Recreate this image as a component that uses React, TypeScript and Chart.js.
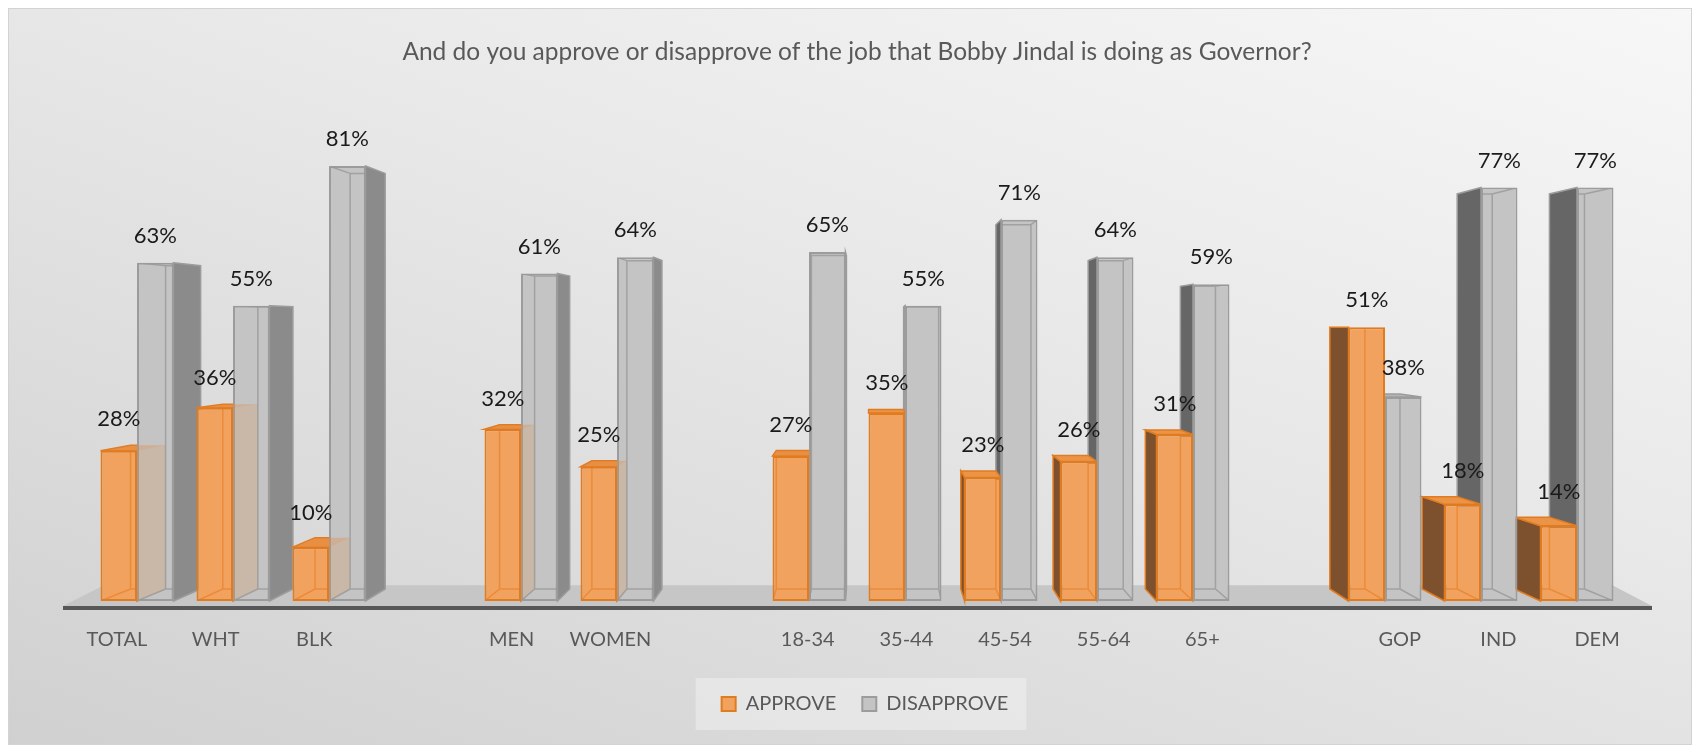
import React, { useEffect, useRef } from "react";
import { Chart, registerables } from "chart.js";

Chart.register(...registerables);

const TITLE = "And do you approve or disapprove of the job that Bobby Jindal is doing as Governor?";
const CATEGORIES = ["TOTAL", "WHT", "BLK", "", "MEN", "WOMEN", "", "18-34", "35-44", "45-54", "55-64", "65+", "", "GOP", "IND", "DEM"];
const APPROVE = [28, 36, 10, null, 32, 25, null, 27, 35, 23, 26, 31, null, 51, 18, 14];
const DISAPPROVE = [63, 55, 81, null, 61, 64, null, 65, 55, 71, 64, 59, null, 38, 77, 77];
const SERIES_NAMES = ["APPROVE", "DISAPPROVE"];

const FONT = "Lato, 'Open Sans', sans-serif";
const KX = 0.039;
const KY = 0.0446;
const VPX_F = 0.5085;
const VPY_F = 0.502;
const LEGEND_SHIFT = 8;

const STYLES = [
  { front: "#f0a25e", border: "#e07b20", sideR: "#d98a4c", sideL: "#7d512e", top: "#eb9447", inner: "rgba(232,120,30,0.55)" },
  { front: "#c4c4c4", border: "#9c9c9c", sideR: "#8b8b8b", sideL: "#666666", top: "#b5b5b5", inner: "rgba(150,150,150,0.75)" },
];

function vp(chart: any) {
  const a = chart.chartArea;
  return { vpX: a.left + (a.right - a.left) * VPX_F, vpY: a.bottom - (a.bottom - a.top) * VPY_F };
}

function poly(ctx: CanvasRenderingContext2D, pts: number[][]) {
  ctx.beginPath();
  ctx.moveTo(pts[0][0], pts[0][1]);
  for (let i = 1; i < pts.length; i++) ctx.lineTo(pts[i][0], pts[i][1]);
  ctx.closePath();
}

function barGeom(el: any, vpX: number, vpY: number) {
  const p = el.getProps(["x", "y", "base", "width"], true);
  const x1 = p.x - p.width / 2;
  const x2 = p.x + p.width / 2;
  const P = (px: number, py: number) => [px + (vpX - px) * KX, py + (vpY - py) * KY];
  let side: "R" | "L" | null = null;
  if (x2 <= vpX) side = "R";
  else if (x1 >= vpX) side = "L";
  return { x: p.x, y: p.y, base: p.base, w: p.width, x1, x2, P, side, topVisible: p.y > vpY };
}

const threeD = {
  id: "threeD",
  afterUpdate(chart: any) {
    const lg = chart.legend;
    if (!lg) return;
    lg.left += LEGEND_SHIFT;
    lg.right += LEGEND_SHIFT;
    (lg.legendHitBoxes || []).forEach((h: any) => {
      h.left += LEGEND_SHIFT;
    });
  },
  beforeDraw(chart: any) {
    const lg = chart.legend;
    if (!lg || !lg.legendHitBoxes || !lg.legendHitBoxes.length) return;
    const hb = lg.legendHitBoxes;
    let minX = Infinity, maxX = -Infinity, minY = Infinity, maxY = -Infinity;
    hb.forEach((h: any) => {
      minX = Math.min(minX, h.left);
      maxX = Math.max(maxX, h.left + h.width);
      minY = Math.min(minY, h.top);
      maxY = Math.max(maxY, h.top + h.height);
    });
    const cy = (minY + maxY) / 2;
    const ctx = chart.ctx;
    ctx.save();
    ctx.fillStyle = "rgba(255,255,255,0.32)";
    ctx.fillRect(minX - 26, cy - 26, maxX - minX + 44, 52);
    ctx.restore();
  },
  beforeDatasetsDraw(chart: any) {
    const ctx: CanvasRenderingContext2D = chart.ctx;
    const a = chart.chartArea;
    const { vpX, vpY } = vp(chart);
    const base = a.bottom;
    // floor
    const fl = a.left - 26, fr = a.right + 27;
    const yF = base + 5;
    const d = 1.3;
    const yB = base - (base - vpY) * KY * d;
    const bl = fl + (vpX - fl) * KX * d;
    const br = fr + (vpX - fr) * KX * d;
    ctx.save();
    ctx.fillStyle = "#c6c6c6";
    poly(ctx, [[fl, yF], [fr, yF], [br, yB], [bl, yB]]);
    ctx.fill();
    ctx.fillStyle = "#575757";
    ctx.fillRect(fl, yF, fr - fl, 4);
    // side and top faces: disapprove first, then approve
    [1, 0].forEach((di) => {
      const meta = chart.getDatasetMeta(di);
      const data = chart.data.datasets[di].data;
      const st = STYLES[di];
      meta.data.forEach((el: any, i: number) => {
        if (data[i] == null) return;
        const g = barGeom(el, vpX, vpY);
        ctx.lineWidth = 1.5;
        ctx.strokeStyle = st.border;
        if (g.side) {
          const xe = g.side === "R" ? g.x2 : g.x1;
          ctx.fillStyle = g.side === "R" ? st.sideR : st.sideL;
          poly(ctx, [[xe, g.y], g.P(xe, g.y), g.P(xe, g.base), [xe, g.base]]);
          ctx.fill();
          ctx.stroke();
        }
        if (g.topVisible) {
          ctx.fillStyle = st.top;
          poly(ctx, [[g.x1, g.y], [g.x2, g.y], g.P(g.x2, g.y), g.P(g.x1, g.y)]);
          ctx.fill();
          ctx.stroke();
        }
      });
    });
    ctx.restore();
  },
  afterDatasetsDraw(chart: any) {
    const ctx: CanvasRenderingContext2D = chart.ctx;
    const { vpX, vpY } = vp(chart);
    ctx.save();
    // translucent approve side/top seen through the neighbouring grey bar
    const m0 = chart.getDatasetMeta(0);
    m0.data.forEach((el: any, i: number) => {
      if (chart.data.datasets[0].data[i] == null) return;
      const g = barGeom(el, vpX, vpY);
      if (g.side !== "R") return;
      ctx.fillStyle = "rgba(225,135,60,0.2)";
      poly(ctx, [[g.x2, g.y], g.P(g.x2, g.y), g.P(g.x2, g.base), [g.x2, g.base]]);
      ctx.fill();
      if (g.topVisible) {
        ctx.fillStyle = "rgba(225,135,60,0.35)";
        poly(ctx, [[g.x1, g.y], [g.x2, g.y], g.P(g.x2, g.y), g.P(g.x1, g.y)]);
        ctx.fill();
      }
    });
    // inner (back) edges visible through the front faces
    [0, 1].forEach((di) => {
      const meta = chart.getDatasetMeta(di);
      const data = chart.data.datasets[di].data;
      const st = STYLES[di];
      meta.data.forEach((el: any, i: number) => {
        if (data[i] == null) return;
        const g = barGeom(el, vpX, vpY);
        const xe = g.x < vpX ? g.x1 : g.x2;
        ctx.save();
        ctx.beginPath();
        ctx.rect(g.x1 + 1, g.y + 1, g.w - 2, g.base - g.y - 2);
        ctx.clip();
        ctx.strokeStyle = st.inner;
        ctx.lineWidth = 1.5;
        const bt = g.P(xe, g.y), bb = g.P(xe, g.base);
        ctx.beginPath();
        ctx.moveTo(bt[0], bt[1]);
        ctx.lineTo(bb[0], bb[1]);
        const b1 = g.P(g.x1, g.base), b2 = g.P(g.x2, g.base);
        ctx.moveTo(b1[0], b1[1]);
        ctx.lineTo(b2[0], b2[1]);
        ctx.moveTo(xe, g.base);
        ctx.lineTo(bb[0], bb[1]);
        if (!g.topVisible) {
          const t1 = g.P(g.x1, g.y), t2 = g.P(g.x2, g.y);
          ctx.moveTo(t1[0], t1[1]);
          ctx.lineTo(t2[0], t2[1]);
          ctx.moveTo(xe, g.y);
          ctx.lineTo(bt[0], bt[1]);
        }
        ctx.stroke();
        ctx.restore();
      });
    });
    // data labels
    ctx.fillStyle = "#1a1a1a";
    ctx.font = `22px ${FONT}`;
    ctx.textAlign = "center";
    ctx.textBaseline = "middle";
    [0, 1].forEach((di) => {
      const meta = chart.getDatasetMeta(di);
      const data = chart.data.datasets[di].data;
      meta.data.forEach((el: any, i: number) => {
        const v = data[i];
        if (v == null) return;
        const g = barGeom(el, vpX, vpY);
        const extra = g.topVisible ? (g.y - vpY) * KY * 0.8 : 0;
        ctx.fillText(`${v}%`, g.x, g.y - 27 - extra);
      });
    });
    ctx.restore();
  },
};

export default function App() {
  const ref = useRef<HTMLCanvasElement>(null);
  useEffect(() => {
    const chart = new Chart(ref.current as HTMLCanvasElement, {
      type: "bar",
      data: {
        labels: CATEGORIES,
        datasets: [
          {
            label: SERIES_NAMES[0],
            data: APPROVE,
            backgroundColor: STYLES[0].front,
            borderColor: STYLES[0].border,
            borderWidth: 2,
            borderSkipped: false,
            xAxisID: "x",
            yAxisID: "y",
          },
          {
            label: SERIES_NAMES[1],
            data: DISAPPROVE,
            backgroundColor: STYLES[1].front,
            borderColor: STYLES[1].border,
            borderWidth: 2,
            borderSkipped: false,
            xAxisID: "x",
            yAxisID: "y",
          },
        ],
      } as any,
      options: {
        responsive: false,
        animation: false,
        events: [],
        layout: { padding: { left: 80, right: 66, top: 0, bottom: 20 } },
        datasets: { bar: { categoryPercentage: 0.76, barPercentage: 1 } },
        scales: {
          x: { type: "category", display: false, offset: true },
          x2: {
            type: "linear",
            position: "bottom",
            bounds: "data",
            offset: false,
            min: -0.2838,
            max: 15.283,
            afterBuildTicks: (scale: any) => {
              scale.ticks = CATEGORIES.map((_, i) => ({ value: i }));
            },
            grid: { display: false, offset: false, drawTicks: true, tickLength: 11 },
            border: { display: false },
            ticks: {
              autoSkip: false,
              maxRotation: 0,
              padding: 16,
              color: "#595959",
              font: { family: FONT, size: 20 },
              callback: (v: any) => CATEGORIES[v as number] ?? "",
            },
          },
          y: { type: "linear", display: false, min: 0, max: 100 },
        },
        plugins: {
          title: {
            display: true,
            text: TITLE,
            color: "#595959",
            font: { family: FONT, size: 24.5, weight: "normal", lineHeight: 1 },
            padding: { top: 30.5, bottom: 0 },
          },
          legend: {
            display: true,
            position: "bottom",
            labels: {
              color: "#595959",
              font: { family: FONT, size: 20 },
              boxWidth: 14,
              boxHeight: 14,
              padding: 26,
            },
          },
          tooltip: { enabled: false },
        },
      } as any,
      plugins: [threeD as any],
    });
    return () => chart.destroy();
  }, []);
  return (
    <div
      style={{
        width: 1684,
        height: 737,
        boxSizing: "border-box",
        border: "1px solid #d3d3d3",
        background: "linear-gradient(200deg, #f7f7f7 0%, #e9e9e9 40%, #d0d0d0 100%)",
      }}
    >
      <canvas ref={ref} width={1682} height={735} style={{ display: "block" }} />
    </div>
  );
}
